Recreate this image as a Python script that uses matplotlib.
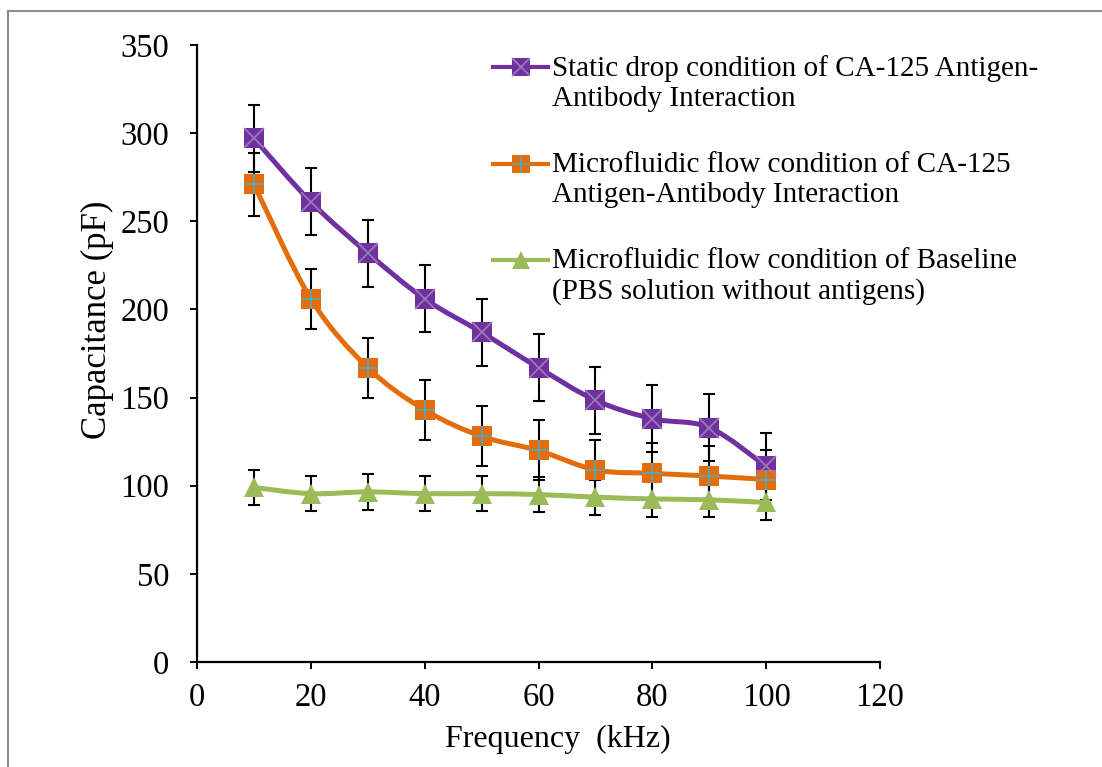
import numpy as np
import matplotlib
matplotlib.use("Agg")
import matplotlib.pyplot as plt
from matplotlib.path import Path
from matplotlib.patches import PathPatch, Rectangle
from matplotlib.lines import Line2D
from matplotlib.legend_handler import HandlerLine2D, HandlerTuple

plt.rcParams["font.family"] = ["Liberation Serif", "DejaVu Serif"]

# données
freq = [10, 20, 30, 40, 50, 60, 70, 80, 90, 100]
static_drop = [297, 261, 232, 206, 187, 167, 148.5, 138, 133, 111]
static_err = [19, 19, 19, 19, 19, 19, 19, 19, 19, 19]
micro_flow = [271, 206, 167, 143, 128, 120, 109, 107, 105.5, 103.5]
micro_err = [18, 17, 17, 17, 17, 17, 17, 17, 17, 17]
baseline = [99, 95.5, 96.5, 95.5, 95.5, 95, 93.5, 92.5, 92, 90.5]
base_err = [10, 10, 10, 10, 10, 10, 10, 10, 10, 10]

labels = ["Static drop condition of CA-125 Antigen-\nAntibody Interaction",
          "Microfluidic flow condition of CA-125\nAntigen-Antibody Interaction",
          "Microfluidic flow condition of Baseline\n(PBS solution without antigens)"]

purple = "#7030A0"
orange = "#E46C0A"
green = "#9BBB59"


def courbe_lisse(x, y):
    # courbe de Bezier type "lissage" Excel
    x = np.asarray(x, float)
    y = np.asarray(y, float)
    pts = np.column_stack([x, y])
    verts = [pts[0]]
    codes = [Path.MOVETO]
    n = len(pts)
    for i in range(n - 1):
        p0 = pts[max(i - 1, 0)]
        p1 = pts[i]
        p2 = pts[i + 1]
        p3 = pts[min(i + 2, n - 1)]
        c1 = p1 + (p2 - p0) / 6
        c2 = p2 - (p3 - p1) / 6
        verts += [c1, c2, p2]
        codes += [Path.CURVE4] * 3
    return Path(verts, codes)


class HandlerHaut(HandlerLine2D):
    # aligne le symbole sur la première ligne du texte
    def create_artists(self, legend, orig_handle, xdescent, ydescent,
                       width, height, fontsize, trans):
        arts = super().create_artists(legend, orig_handle, xdescent, ydescent,
                                      width, height, fontsize, trans)
        for a in arts:
            a.set_ydata(np.asarray(a.get_ydata(), float) + 11.5)
        return arts


fig = plt.figure(figsize=(11.02, 7.67), dpi=100)
ax = fig.add_axes([197 / 1102, 105 / 767, 683 / 1102, 617 / 767])

series = [
    (static_drop, static_err, purple, "s", "x", "#9B7DBA", 14),
    (micro_flow, micro_err, orange, "s", "+", "#4BACC6", 14),
    (baseline, base_err, green, "^", None, None, 15),
]

handles = []
for vals, err, col, mk, inner, inner_col, ms in series:
    ax.errorbar(freq, vals, yerr=err, fmt="none", ecolor="black",
                elinewidth=1.5, capsize=4, capthick=1.5, zorder=1)
    ax.add_patch(PathPatch(courbe_lisse(freq, vals), facecolor="none",
                           edgecolor=col, lw=3.6, zorder=2))
    ax.plot(freq, vals, linestyle="none", marker=mk, markersize=ms,
            color=col, markeredgewidth=0, zorder=3)
    h = Line2D([], [], color=col, lw=3.0, marker=mk, markersize=ms * 0.9,
               markeredgewidth=0)
    if inner:
        ax.plot(freq, vals, linestyle="none", marker=inner, markersize=ms,
                color=inner_col, markeredgewidth=1.2, zorder=4)
        h2 = Line2D([], [], linestyle="none", marker=inner,
                    markersize=ms * 0.9, color=inner_col, markeredgewidth=1.2)
        handles.append((h, h2))
    else:
        handles.append(h)

ax.set_xlim(0, 120)
ax.set_ylim(0, 350)
ax.set_xticks(range(0, 121, 20))
ax.set_yticks(range(0, 351, 50))
ax.spines["top"].set_visible(False)
ax.spines["right"].set_visible(False)
for s in ["left", "bottom"]:
    ax.spines[s].set_linewidth(1.6)
ax.tick_params(axis="both", direction="out", length=5, width=1.4,
               labelsize=23.5)
ax.tick_params(axis="y", pad=15)
ax.tick_params(axis="x", pad=10)

ax.set_xlabel("Frequency  (kHz)", fontsize=23)
ax.set_ylabel("Capacitance (pF)", fontsize=25)
ax.xaxis.label.set_va("center")
ax.yaxis.label.set_va("center")
ax.xaxis.set_label_coords(0.529, -0.126)
ax.yaxis.set_label_coords(-0.146, 0.554)

leg = ax.legend(handles, labels, loc="upper left",
                bbox_to_anchor=(493 / 1102, 1 - 55 / 767),
                bbox_transform=fig.transFigure, frameon=False, fontsize=21,
                borderpad=0, borderaxespad=0, handlelength=1.9,
                handletextpad=0.14, labelspacing=1.37,
                handler_map={Line2D: HandlerHaut(),
                             tuple: HandlerTuple(ndivide=1)})
for t in leg.get_texts():
    t.set_linespacing(1.2)

# cadre gris autour de la figure
fig.add_artist(Rectangle((8 / 1102, -0.1), 1.2, 1.1 - 11 / 767,
                         transform=fig.transFigure, fill=False,
                         edgecolor="#8c8c8c", lw=1.5))

fig.savefig("out.png", dpi=100)
